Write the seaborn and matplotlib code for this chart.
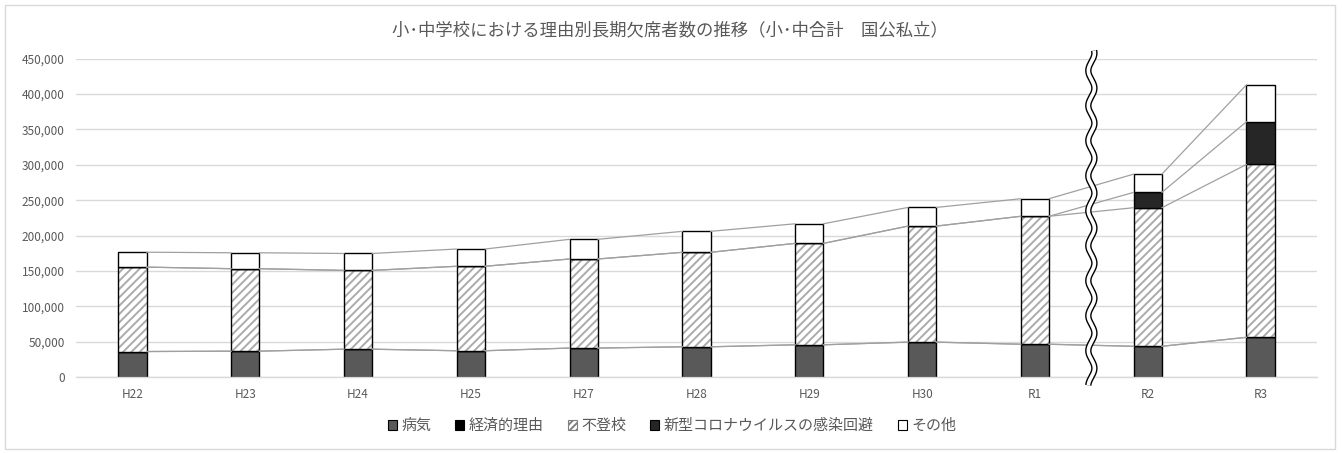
import numpy as np
import pandas as pd
import matplotlib
matplotlib.use("Agg")
import matplotlib.pyplot as plt
from matplotlib.patches import Rectangle, Patch
from matplotlib.ticker import FuncFormatter
import seaborn as sns

# ---- data ----
categories = ["H22", "H23", "H24", "H25", "H27", "H28", "H29", "H30", "R1", "R2", "R3"]
byouki = [36000, 36500, 39300, 37100, 40900, 42700, 45500, 49300, 46300, 43400, 56100]
keizai = [30, 30, 30, 30, 30, 30, 30, 30, 30, 30, 30]
futoukou = [119300, 116600, 111400, 119400, 125900, 133550, 143400, 164000, 180900, 195900, 244400]
corona = [0, 0, 0, 0, 0, 0, 0, 0, 0, 21700, 60400]
sonota = [21100, 22500, 23900, 24400, 27800, 29650, 27700, 26400, 24800, 25800, 52200]
series_names = ["病気", "経済的理由", "不登校", "新型コロナウイルスの感染回避", "その他"]
title = "小･中学校における理由別長期欠席者数の推移（小･中合計　国公私立）"

sns.set_theme(style="white")
plt.rcParams["font.family"] = ["Noto Sans CJK JP", "DejaVu Sans"]
plt.rcParams["hatch.linewidth"] = 1.4

W, H = 1342, 453
fig = plt.figure(figsize=(W / 100, H / 100), dpi=100)
ax = fig.add_axes([76 / W, 1 - 377 / H, (1317 - 76) / W, (377 - 58.7) / H])

df = pd.DataFrame({"cat": categories, "病気": byouki, "経済的理由": keizai,
                   "不登校": futoukou, "新型コロナウイルスの感染回避": corona, "その他": sonota})
vals = [np.array(byouki, float), np.array(keizai, float), np.array(futoukou, float),
        np.array(corona, float), np.array(sonota, float)]
face = ["#595959", "#000000", "#FFFFFF", "#262626", "#FFFFFF"]
bw = 0.25
bottom = np.zeros(len(categories))
tops = []
for i, name in enumerate(series_names):
    v = vals[i]
    if i == 2:
        sns.barplot(data=df, x="cat", y=name, bottom=bottom, color="white", width=bw,
                    saturation=1, hatch="////", edgecolor="#ABABAB", linewidth=0, ax=ax)
        sns.barplot(data=df, x="cat", y=name, bottom=bottom, color="#000000", width=bw,
                    saturation=1, fill=False, linewidth=1.0, ax=ax)
    else:
        sns.barplot(data=df, x="cat", y=name, bottom=bottom, color=face[i], width=bw,
                    saturation=1, edgecolor="#000000", linewidth=1.0, ax=ax)
    bottom = bottom + v
    tops.append(bottom.copy())

# series lines connecting cumulative tops
pos = np.arange(len(categories))
for t in tops:
    for j in range(len(pos) - 1):
        ax.plot([pos[j] + bw / 2, pos[j + 1] - bw / 2], [t[j], t[j + 1]],
                color="#A0A0A0", lw=0.9, zorder=1)

ax.set_xlim(-0.5, len(categories) - 0.5)
ax.set_ylim(0, 450000)
ax.set_yticks(np.arange(0, 450001, 50000))
ax.yaxis.set_major_formatter(FuncFormatter(lambda v, p: f"{int(v):,}"))
ax.grid(axis="y", color="#D9D9D9", lw=1.0)
ax.set_axisbelow(True)
for s in ["left", "right", "top"]:
    ax.spines[s].set_visible(False)
ax.spines["bottom"].set_color("#D9D9D9")
ax.spines["bottom"].set_linewidth(1.0)
ax.tick_params(axis="both", length=0, labelsize=8.5, colors="#595959", pad=8)
ax.tick_params(axis="x", pad=8)
ax.set_xlabel("")
ax.set_ylabel("")

# axis break mark between R1 and R2
yy = np.linspace(-11700, 461600, 600)
xx = (len(categories) - 2.5) + 0.027 * np.sin(yy / 49500 * 2 * np.pi)
ax.plot(xx, yy, color="black", lw=4.6, clip_on=False, zorder=5, solid_capstyle="butt")
ax.plot(xx, yy, color="white", lw=2.6, clip_on=False, zorder=6, solid_capstyle="butt")

fig.text(670 / W, 1 - 30 / H, title, ha="center", va="center", fontsize=12.5, color="#595959")

handles = [Patch(facecolor="#595959", edgecolor="black", lw=0.8),
           Patch(facecolor="#000000", edgecolor="black", lw=0.8),
           Patch(facecolor="white", edgecolor="#808080", hatch="/////", lw=0.8),
           Patch(facecolor="#262626", edgecolor="black", lw=0.8),
           Patch(facecolor="white", edgecolor="black", lw=0.8)]
leg = fig.legend(handles, series_names, loc="center", bbox_to_anchor=(672 / W, 1 - 426 / H),
                 ncol=5, frameon=False, fontsize=10.8, handlelength=0.6, handleheight=0.6,
                 handletextpad=0.3, columnspacing=1.6)
for t in leg.get_texts():
    t.set_color("#595959")

fig.patches.append(Rectangle((5 / W, 4 / H), (1335 - 5) / W, (449 - 5) / H,
                             transform=fig.transFigure, fill=False, edgecolor="#D9D9D9", lw=1))

fig.savefig("out.png", dpi=100, facecolor="white")
